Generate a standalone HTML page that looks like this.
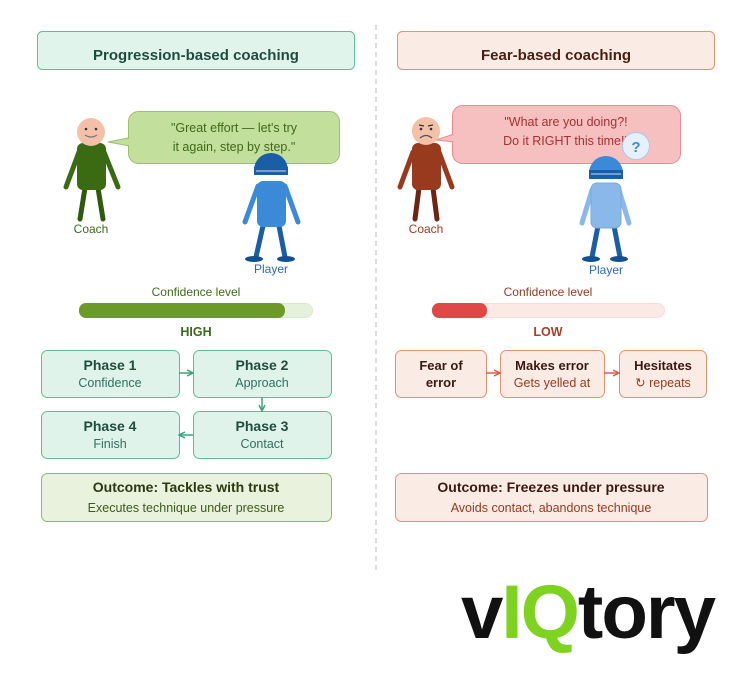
<!DOCTYPE html>
<html><head><meta charset="utf-8"><style>body{margin:0;background:#fff}svg{display:block}text{font-family:"Liberation Sans",sans-serif}</style></head><body>
<svg width="752" height="688" viewBox="0 0 752 688" xmlns="http://www.w3.org/2000/svg">
<defs>
<marker id="ag" markerWidth="8" markerHeight="8" refX="7" refY="4" orient="auto" markerUnits="userSpaceOnUse"><path d="M1,1 L7,4 L1,7" fill="none" stroke="#3aa57a" stroke-width="1.5"/></marker>
<marker id="ar" markerWidth="8" markerHeight="8" refX="7" refY="4" orient="auto" markerUnits="userSpaceOnUse"><path d="M1,1 L7,4 L1,7" fill="none" stroke="#e05a4a" stroke-width="1.5"/></marker>
</defs>
<line x1="376" y1="25" x2="376" y2="573" stroke="#d0d0d0" stroke-dasharray="5,4" stroke-width="1.5"/>
<!-- headers -->
<rect x="37.5" y="31.5" width="317" height="38" rx="5" fill="#e1f4ec" stroke="#5cbf94"/>
<text x="196" y="60" text-anchor="middle" font-size="15" font-weight="bold" fill="#1e4d40">Progression-based coaching</text>
<rect x="397.5" y="31.5" width="317" height="38" rx="5" fill="#fbebe5" stroke="#e8906c"/>
<text x="556" y="60" text-anchor="middle" font-size="15" font-weight="bold" fill="#4a1e10">Fear-based coaching</text>

<!-- left bubble -->
<path d="M128,138 L108,142 L130,146 Z" fill="#c3df9c" stroke="#9cc070"/>
<rect x="128.5" y="111.5" width="211" height="52" rx="10" fill="#c3df9c" stroke="#9cc070"/>
<path d="M129,139 L129,145" stroke="#c3df9c" stroke-width="2"/>
<text x="234" y="132" text-anchor="middle" font-size="12.5" fill="#3d6a1a">"Great effort — let's try</text>
<text x="234" y="151" text-anchor="middle" font-size="12.5" fill="#3d6a1a">it again, step by step."</text>
<!-- left coach -->
<g stroke-linecap="round">
<line x1="79" y1="152" x2="66" y2="187" stroke="#3a6a12" stroke-width="5"/>
<line x1="104" y1="152" x2="118" y2="187" stroke="#3a6a12" stroke-width="5"/>
<line x1="85" y1="188" x2="80" y2="219" stroke="#2d5a0c" stroke-width="5"/>
<line x1="98" y1="188" x2="103" y2="219" stroke="#2d5a0c" stroke-width="5"/>
</g>
<rect x="77" y="143" width="29" height="47" rx="6" fill="#3a6a12"/>
<circle cx="91" cy="132" r="14" fill="#f4c0a8"/>
<circle cx="86" cy="129" r="1.3" fill="#333"/><circle cx="96" cy="129" r="1.3" fill="#333"/>
<path d="M85,135 Q91,139 97,135" fill="none" stroke="#777" stroke-width="1.2"/>
<text x="91" y="233" text-anchor="middle" font-size="12" fill="#3d6a1a">Coach</text>
<!-- left player -->
<g stroke-linecap="round">
<line x1="258" y1="186" x2="245" y2="222" stroke="#3a8ad8" stroke-width="5"/>
<line x1="285" y1="186" x2="298" y2="222" stroke="#3a8ad8" stroke-width="5"/>
<line x1="263" y1="226" x2="256" y2="257" stroke="#1a5ea6" stroke-width="5"/>
<line x1="279" y1="226" x2="285" y2="257" stroke="#1a5ea6" stroke-width="5"/>
</g>
<ellipse cx="254" cy="259" rx="9" ry="3" fill="#14508e"/><ellipse cx="286" cy="259" rx="9" ry="3" fill="#14508e"/>
<rect x="257" y="181" width="29" height="46" rx="6" fill="#3a8ad8"/>
<path d="M254,170 A17,17 0 0 1 288,170 L288,175 L254,175 Z" fill="#1a5ea6"/>
<rect x="254" y="167" width="34" height="8" fill="#1a5ea6"/>
<line x1="256" y1="171" x2="286" y2="171" stroke="#a8c8ec" stroke-width="1.2"/>
<text x="271" y="273" text-anchor="middle" font-size="12" fill="#2a6ab8">Player</text>

<!-- right bubble -->
<path d="M454,134 L436,140 L456,142 Z" fill="#f6c0c0" stroke="#f08a8a"/>
<rect x="452.5" y="105.5" width="228" height="58" rx="10" fill="#f6c0c0" stroke="#f08a8a"/>
<path d="M453,135 L453,141" stroke="#f6c0c0" stroke-width="2"/>
<text x="566" y="126" text-anchor="middle" font-size="12.5" fill="#a83030">"What are you doing?!</text>
<text x="566" y="145" text-anchor="middle" font-size="12.5" fill="#a83030">Do it RIGHT this time!"</text>
<!-- right coach -->
<g stroke-linecap="round">
<line x1="413" y1="152" x2="400" y2="187" stroke="#983a1e" stroke-width="5"/>
<line x1="439" y1="152" x2="452" y2="187" stroke="#983a1e" stroke-width="5"/>
<line x1="419" y1="188" x2="415" y2="219" stroke="#6e2410" stroke-width="5"/>
<line x1="433" y1="188" x2="437" y2="219" stroke="#6e2410" stroke-width="5"/>
</g>
<rect x="412" y="143" width="29" height="47" rx="6" fill="#983a1e"/>
<circle cx="426" cy="131" r="14" fill="#f4c0a8"/>
<path d="M419,125 L424,126 M428,126 L433,125" stroke="#333" stroke-width="1.2"/>
<circle cx="421" cy="129" r="1.3" fill="#333"/><circle cx="431" cy="129" r="1.3" fill="#333"/>
<path d="M420,138 Q426,133 432,138" fill="none" stroke="#555" stroke-width="1.2"/>
<text x="426" y="233" text-anchor="middle" font-size="12" fill="#983a1e">Coach</text>
<!-- right player -->
<g stroke-linecap="round">
<line x1="592" y1="190" x2="582" y2="223" stroke="#8ab8ea" stroke-width="5"/>
<line x1="619" y1="190" x2="629" y2="223" stroke="#8ab8ea" stroke-width="5"/>
<line x1="598" y1="226" x2="592" y2="257" stroke="#1a5ea6" stroke-width="5"/>
<line x1="614" y1="226" x2="620" y2="257" stroke="#1a5ea6" stroke-width="5"/>
</g>
<ellipse cx="591" cy="259" rx="9" ry="3" fill="#14508e"/><ellipse cx="619" cy="259" rx="9" ry="3" fill="#14508e"/>
<rect x="591" y="183" width="30" height="45" rx="6" fill="#8ab8ea" stroke="#7aa8dc"/>
<path d="M589,173 A17,17 0 0 1 623,173 L623,178 Z" fill="#3a8ad8"/>
<rect x="589" y="170" width="34" height="9" fill="#1a5ea6"/>
<line x1="591" y1="174" x2="621" y2="174" stroke="#a8c8ec" stroke-width="1.2"/>
<circle cx="636" cy="146" r="13.5" fill="#e6f0fb" stroke="#a8c8ec"/>
<text x="636" y="152" text-anchor="middle" font-size="15" font-weight="bold" fill="#3a8ad8">?</text>
<text x="606" y="274" text-anchor="middle" font-size="12" fill="#2a6ab8">Player</text>

<!-- confidence -->
<text x="196" y="296" text-anchor="middle" font-size="12" fill="#3d6a1a">Confidence level</text>
<rect x="79.5" y="303.5" width="233" height="14" rx="7" fill="#e6f1dc" stroke="#d8e8cc"/>
<rect x="79" y="303" width="206" height="15" rx="7" fill="#6a9a28"/>
<text x="196" y="336" text-anchor="middle" font-size="12.5" font-weight="bold" fill="#3d6a1a">HIGH</text>
<text x="548" y="296" text-anchor="middle" font-size="12" fill="#983a1e">Confidence level</text>
<rect x="432.5" y="303.5" width="232" height="14" rx="7" fill="#fbe9e6" stroke="#f6dcd6"/>
<rect x="432" y="303" width="55" height="15" rx="7" fill="#e04848"/>
<text x="548" y="336" text-anchor="middle" font-size="12.5" font-weight="bold" fill="#a8402a">LOW</text>

<!-- phases -->
<g fill="#e0f3ea" stroke="#5cbf94">
<rect x="41.5" y="350.5" width="138" height="47" rx="6"/>
<rect x="193.5" y="350.5" width="138" height="47" rx="6"/>
<rect x="193.5" y="411.5" width="138" height="47" rx="6"/>
<rect x="41.5" y="411.5" width="138" height="47" rx="6"/>
</g>
<g text-anchor="middle">
<text x="110" y="370" font-size="14" font-weight="bold" fill="#1e4d40">Phase 1</text><text x="110" y="387" font-size="12.5" fill="#2d7060">Confidence</text>
<text x="262" y="370" font-size="14" font-weight="bold" fill="#1e4d40">Phase 2</text><text x="262" y="387" font-size="12.5" fill="#2d7060">Approach</text>
<text x="262" y="431" font-size="14" font-weight="bold" fill="#1e4d40">Phase 3</text><text x="262" y="448" font-size="12.5" fill="#2d7060">Contact</text>
<text x="110" y="431" font-size="14" font-weight="bold" fill="#1e4d40">Phase 4</text><text x="110" y="448" font-size="12.5" fill="#2d7060">Finish</text>
</g>
<g stroke="#3aa57a" stroke-width="1.5">
<line x1="179" y1="373" x2="193" y2="373" marker-end="url(#ag)"/>
<line x1="262" y1="397" x2="262" y2="411" marker-end="url(#ag)"/>
<line x1="193" y1="435" x2="179" y2="435" marker-end="url(#ag)"/>
</g>
<rect x="41.5" y="473.5" width="290" height="48" rx="6" fill="#e8f2dc" stroke="#8cbc5c"/>
<text x="186" y="492" text-anchor="middle" font-size="14" font-weight="bold" fill="#2a3a10">Outcome: Tackles with trust</text>
<text x="186" y="512" text-anchor="middle" font-size="12.5" fill="#3d5a1a">Executes technique under pressure</text>

<!-- fear chain -->
<g fill="#fbebe5" stroke="#e8906c">
<rect x="395.5" y="350.5" width="91" height="47" rx="6"/>
<rect x="500.5" y="350.5" width="104" height="47" rx="6"/>
<rect x="619.5" y="350.5" width="87" height="47" rx="6"/>
</g>
<g text-anchor="middle">
<text x="441" y="370" font-size="13" font-weight="bold" fill="#3a1a10">Fear of</text><text x="441" y="387" font-size="13" font-weight="bold" fill="#3a1a10">error</text>
<text x="552" y="370" font-size="13" font-weight="bold" fill="#3a1a10">Makes error</text><text x="552" y="387" font-size="12.5" fill="#983a1e">Gets yelled at</text>
<text x="663" y="370" font-size="13" font-weight="bold" fill="#3a1a10">Hesitates</text><text x="663" y="387" font-size="12.5" fill="#983a1e">↻ repeats</text>
</g>
<g stroke="#e05a4a" stroke-width="1.5">
<line x1="486" y1="373" x2="500" y2="373" marker-end="url(#ar)"/>
<line x1="604" y1="373" x2="619" y2="373" marker-end="url(#ar)"/>
</g>
<rect x="395.5" y="473.5" width="312" height="48" rx="6" fill="#fbebe5" stroke="#e8906c"/>
<text x="551" y="492" text-anchor="middle" font-size="14" font-weight="bold" fill="#3a1a10">Outcome: Freezes under pressure</text>
<text x="551" y="512" text-anchor="middle" font-size="12.5" fill="#983a1e">Avoids contact, abandons technique</text>

<!-- logo -->
<text x="461" y="638" font-size="76" font-weight="bold" textLength="253" lengthAdjust="spacingAndGlyphs" fill="#111" style="letter-spacing:-2px">v<tspan fill="#7ed321">IQ</tspan>tory</text>
</svg>
</body></html>
